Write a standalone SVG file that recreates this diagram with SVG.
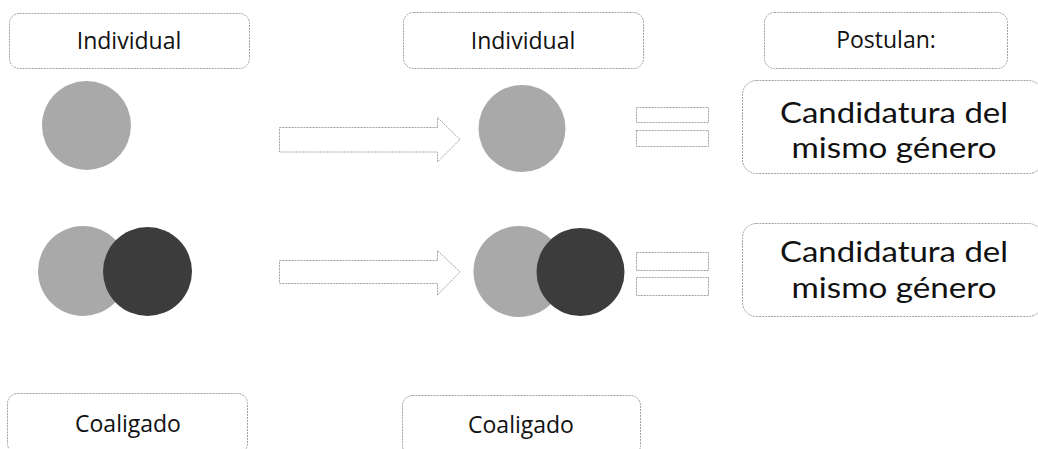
<svg xmlns="http://www.w3.org/2000/svg" width="1038" height="449" viewBox="0 0 1038 449">
<style>
.box{fill:#fff;stroke:#a0a0a0;stroke-width:1;stroke-dasharray:2 1}
.lbl{font-family:"Open Sans","Liberation Sans",sans-serif;fill:#111;text-anchor:middle}
.s{font-size:23px}
.b{font-family:Lato,"Open Sans",sans-serif;font-size:29px}
.light{fill:#a9a9a9}
.dark{fill:#3c3c3c}
.shape{fill:#fff;stroke:#a0a0a0;stroke-width:1;stroke-dasharray:2 1}
</style>
<rect width="1038" height="449" fill="#fff"/>
<g id="individual-left"><rect class="box" x="9.5" y="13.5" width="240" height="55" rx="10"/><text class="lbl s" x="129" y="49">Individual</text></g>
<g id="individual-mid"><rect class="box" x="403.5" y="12.5" width="240" height="56" rx="10"/><text class="lbl s" x="523" y="49">Individual</text></g>
<g id="postulan"><rect class="box" x="764.5" y="12.5" width="243" height="56" rx="10"/><text class="lbl s" x="886" y="48">Postulan:</text></g>
<g id="candidatura-1"><rect class="box" x="742.5" y="80.5" width="300" height="93" rx="14"/><text class="lbl b" x="894" y="123" textLength="228" lengthAdjust="spacingAndGlyphs">Candidatura del</text><text class="lbl b" x="894" y="158" textLength="205" lengthAdjust="spacingAndGlyphs">mismo género</text></g>
<g id="candidatura-2"><rect class="box" x="742.5" y="223.5" width="300" height="93" rx="14"/><text class="lbl b" x="894" y="262" textLength="228" lengthAdjust="spacingAndGlyphs">Candidatura del</text><text class="lbl b" x="894" y="298" textLength="205" lengthAdjust="spacingAndGlyphs">mismo género</text></g>
<g id="coaligado-left"><rect class="box" x="7.5" y="393.5" width="240" height="60" rx="10"/><text class="lbl s" x="128" y="432">Coaligado</text></g>
<g id="coaligado-mid"><rect class="box" x="402.5" y="395.5" width="238" height="60" rx="10"/><text class="lbl s" x="521" y="433">Coaligado</text></g>
<g id="circle-ind-left"><circle class="light" cx="86.5" cy="125.5" r="44.5"/></g>
<g id="circle-ind-mid"><circle class="light" cx="522" cy="128.5" r="43.5"/></g>
<g id="circles-coal-left"><circle class="light" cx="83" cy="271" r="45"/><circle class="dark" cx="147.5" cy="271.5" r="44.5"/></g>
<g id="circles-coal-mid"><circle class="light" cx="519" cy="271.5" r="45.5"/><circle class="dark" cx="580.5" cy="272" r="44"/></g>
<g id="connectors">
<path class="shape" d="M279.5 127.5 H437.5 V117.5 L460 139.5 L437.5 162 V152 H279.5 Z"/>
<path class="shape" d="M279.5 260.5 H437.5 V250.5 L460 272 L437.5 295 V283.5 H279.5 Z"/>
<rect class="shape" x="636.5" y="107.5" width="72" height="15"/>
<rect class="shape" x="636.5" y="130.5" width="72" height="16"/>
<rect class="shape" x="636.5" y="252.5" width="72" height="18"/>
<rect class="shape" x="636.5" y="277.5" width="72" height="18"/>
</g>
</svg>
